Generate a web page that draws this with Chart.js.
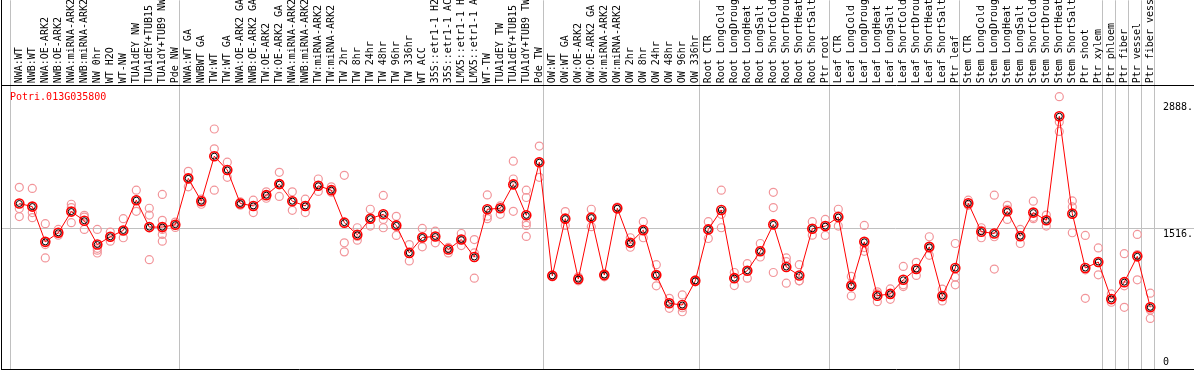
<!DOCTYPE html>
<html><head><meta charset="utf-8">
<script src="https://cdn.jsdelivr.net/npm/chart.js@4.4.1/dist/chart.umd.min.js"></script>
<style>
html,body{margin:0;padding:0;background:#fff;}
#wrap{position:relative;width:1194px;height:370px;}
</style></head><body>
<div id="wrap"><canvas id="c" width="1194" height="370"></canvas></div>
<script>
const titleText = 'Potri.013G035800';
const categories = [
"NWA:WT","NWB:WT","NWA:OE-ARK2","NWB:OE-ARK2","NWA:miRNA-ARK2","NWB:miRNA-ARK2","NW 0hr","WT H2O","WT-NW","TUA1dEY NW","TUA1dEY+TUB15","TUA1dY+TUB9 NW","Pde NW",
"NWA:WT GA","NWBWT GA","TW:WT","TW:WT GA","NWA:OE-ARK2 GA","NWB:OE-ARK2 GA","TW:OE-ARK2","TW:OE-ARK2 GA","NWA:miRNA-ARK2","NWB:miRNA-ARK2","TW:miRNA-ARK2","TW:miRNA-ARK2","TW 2hr","TW 8hr","TW 24hr","TW 48hr","TW 96hr","TW 336hr","WT ACC","35S::etr1-1 H2","35S::etr1-1 AC","LMX5::etr1-1 H","LMX5::etr1-1 A","WT-TW","TUA1dEY TW","TUA1dEY+TUB15","TUA1dY+TUB9 TW","Pde TW",
"OW:WT","OW:WT GA","OW:OE-ARK2","OW:OE-ARK2 GA","OW:miRNA-ARK2","OW:miRNA-ARK2","OW 2hr","OW 8hr","OW 24hr","OW 48hr","OW 96hr","OW 336hr",
"Root CTR","Root LongCold","Root LongDroug","Root LongHeat","Root LongSalt","Root ShortCold","Root ShortDrou","Root ShortHeat","Root ShortSalt","Ptr root",
"Leaf CTR","Leaf LongCold","Leaf LongDroug","Leaf LongHeat","Leaf LongSalt","Leaf ShortCold","Leaf ShortDrou","Leaf ShortHeat","Leaf ShortSalt","Ptr leaf",
"Stem CTR","Stem LongCold","Stem LongDroug","Stem LongHeat","Stem LongSalt","Stem ShortCold","Stem ShortDrou","Stem ShortHeat","Stem ShortSalt","Ptr shoot","Ptr xylem",
"Ptr phloem","Ptr fiber","Ptr vessel","Ptr fiber vess"];
const groupStarts = [0,13,41,53,63,73,84,85,86,87];
const meanValues = [
1783,1750,1370,1468,1696,1598,1341,1425,1493,1819,1529,1529,1555,
2054,1808,2293,2144,1783,1757,1873,1992,1808,1757,1974,1927,1577,1446,1620,1667,1547,1251,1417,1428,1287,1395,1207,1721,1732,1989,1656,2228,
1004,1620,969,1631,1012,1732,1359,1496,1012,708,689,950,
1504,1713,979,1059,1268,1558,1099,1008,1511,1540,
1637,896,1370,790,809,961,1077,1316,787,1088,
1786,1479,1460,1699,1431,1685,1602,2723,1674,1088,1153,
755,936,1214,665];
const replicateValues = [
[1957,1729,1642],[1946,1685,1631],[1566,1341,1197],[1504,1442,1471],[1775,1739,1577],[1656,1637,1504],[1504,1300,1280,1250],[1475,1377,1425],[1620,1414,1493],[1927,1699,1819],[1732,1659,1178],[1881,1602,1504,1450,1377],[1583,1525,1555],
[2130,1963,2057],[1830,1775,1808],[2586,2372,1927],[2228,2065,2144],[1800,1765,1783],[1819,1685,1757],[1909,1840,1873],[2119,1859,1992],[1909,1710,1808],[1830,1685,1757],[2047,1913,1974],[1963,1905,1927],[2087,1359,1262],[1522,1388,1428],[1721,1540,1620],[1870,1612,1522],[1645,1439,1547],[1341,1164,1251],[1515,1316,1417],[1485,1359,1428],[1300,1251,1310],[1460,1395,1330],[1395,1251,979],[1876,1647,1620],[1757,1667,1732],[2239,2047,1699],[1927,1848,1577,1547,1428],[2402,2065,2228],
[1015,993,1004],[1696,1547,1620],[993,950,969],[1721,1533,1631],[1026,993,1012],[1745,1720,1732],[1414,1312,1359],[1587,1414,1496],[1124,896,1012],[762,654,708],[798,617,660],[950,961,939],
[1587,1406,1504],[1927,1667,1522],[1040,899,979],[1135,979,1059],[1352,1207,1268],[1904,1739,1040],[1197,925,1156],[1124,950,950],[1587,1442,1511],[1612,1439,1540],
[1721,1540,1650],[997,787,917],[1547,1268,1308],[831,725,809],[863,751,809],[1105,888,907],[1149,1008,1080],[1425,1225,1298],[860,733,775],[1352,990,907],
[1819,1764,1786],[1522,1414,1493],[1873,1425,1077],[1764,1612,1721],[1504,1352,1439],[1808,1620,1634],[1659,1540,1602],[2934,2662,2560],[1811,1746,1468],[1439,762,1069],[1305,1015,1146],
[809,719,743],[1243,665,896],[1450,961,1233],[817,635,545,668]];
const yTickValues = [0,1516,2888];
const yTickLabels = ['0','1516.','2888.'];
const gridValue = 1516;

const FIRST_PX = 19.3, STEP_PX = 13, Y_PX_PER_UNIT = 0.09281;
const TICK_SHIFT = -0.1385;
const FONT = '"DejaVu Sans Mono", monospace';

const meanPts = meanValues.map((v,i)=>({x:i,y:v}));
const repPts = [];
replicateValues.forEach((arr,i)=>arr.forEach(v=>repPts.push({x:i,y:v})));

const decor = {
  id:'decor',
  afterDraw(chart){
    const {ctx, chartArea:a, scales:{y}} = chart;
    ctx.save();
    ctx.strokeStyle='#000'; ctx.lineWidth=1;
    ctx.beginPath(); ctx.moveTo(1.5,0); ctx.lineTo(1.5,a.bottom); ctx.stroke();
    ctx.font='10px '+FONT; ctx.fillStyle='#000'; ctx.textAlign='left'; ctx.textBaseline='top';
    yTickValues.forEach((v,i)=>{
      let py = y.getPixelForValue(v)+1;
      py = Math.min(py, a.bottom-12);
      ctx.fillText(yTickLabels[i], 1163, py);
    });
    ctx.fillStyle='#ff0000';
    ctx.fillText(titleText, 10, a.top+7);
    ctx.restore();
  }
};

const chart = new Chart(document.getElementById('c'), {
  type:'line',
  data:{ datasets:[
    { label:'mean', data:meanPts, borderColor:'#ff0000', borderWidth:1, pointRadius:4.5, pointBorderWidth:1.6,
      pointBorderColor:'#ff0000', pointBackgroundColor:'rgba(0,0,0,0)', tension:0, order:1 },
    { label:'meanInner', data:meanPts, showLine:false, pointRadius:3, pointBorderWidth:1,
      pointBorderColor:'#000000', pointBackgroundColor:'rgba(0,0,0,0)', order:0 },
    { label:'replicates', data:repPts, showLine:false, pointRadius:4, pointBorderWidth:1.2,
      pointBorderColor:'#f2959a', pointBackgroundColor:'rgba(0,0,0,0)', order:2 }
  ]},
  options:{
    responsive:false, animation:false, devicePixelRatio:1,
    layout:{ autoPadding:false, padding:{left:1, right:0, top:0, bottom:1} },
    plugins:{ legend:{display:false}, tooltip:{enabled:false}, title:{display:false} },
    scales:{
      x:{ type:'linear', position:'top', min:-1.4, max:90.4,
        afterBuildTicks: s => { s.ticks = categories.map((c,i)=>({value:i+TICK_SHIFT})); },
        title:{ display:true, text:' ', font:{family:FONT, size:10, lineHeight:1}, padding:{top:0, bottom:72} },
        ticks:{ autoSkip:false, minRotation:90, maxRotation:90, padding:-83, labelOffset:13.8, color:'#000',
          font:{family:FONT, size:10, lineHeight:1.2}, callback:(v,i)=>categories[i] },
        grid:{ offset:true, drawOnChartArea:true, drawTicks:true, tickLength:85, lineWidth:1,
          color: ctx => (ctx.index===undefined || groupStarts.includes(ctx.index)) ? '#c0c0c0' : 'rgba(0,0,0,0)' },
        border:{ display:true, color:'#000', width:1 }
      },
      xb:{ type:'linear', position:'bottom', min:-1.4, max:90.4,
        ticks:{display:false}, grid:{display:false, drawTicks:false}, border:{display:true, color:'#000', width:1} },
      y:{ type:'linear', position:'right', min:0, max:3055,
        afterBuildTicks: s => { s.ticks = yTickValues.map(v=>({value:v})); },
        ticks:{display:false},
        grid:{ drawTicks:false, lineWidth:1, color: ctx => (ctx.tick && ctx.tick.value===gridValue) ? '#c0c0c0' : 'rgba(0,0,0,0)' },
        border:{display:false}
      }
    }
  },
  plugins:[decor]
});
// fit the scale ranges to the laid-out chart area so that categories are 13px apart
for (let k=0;k<3;k++){
  const a = chart.chartArea;
  const mn = (a.left - FIRST_PX)/STEP_PX;
  const mx = mn + (a.right - a.left)/STEP_PX;
  chart.options.scales.x.min = mn; chart.options.scales.x.max = mx;
  chart.options.scales.xb.min = mn; chart.options.scales.xb.max = mx;
  chart.options.scales.y.max = (a.bottom - a.top)/Y_PX_PER_UNIT;
  chart.update('none');
}
</script>
</body></html>
